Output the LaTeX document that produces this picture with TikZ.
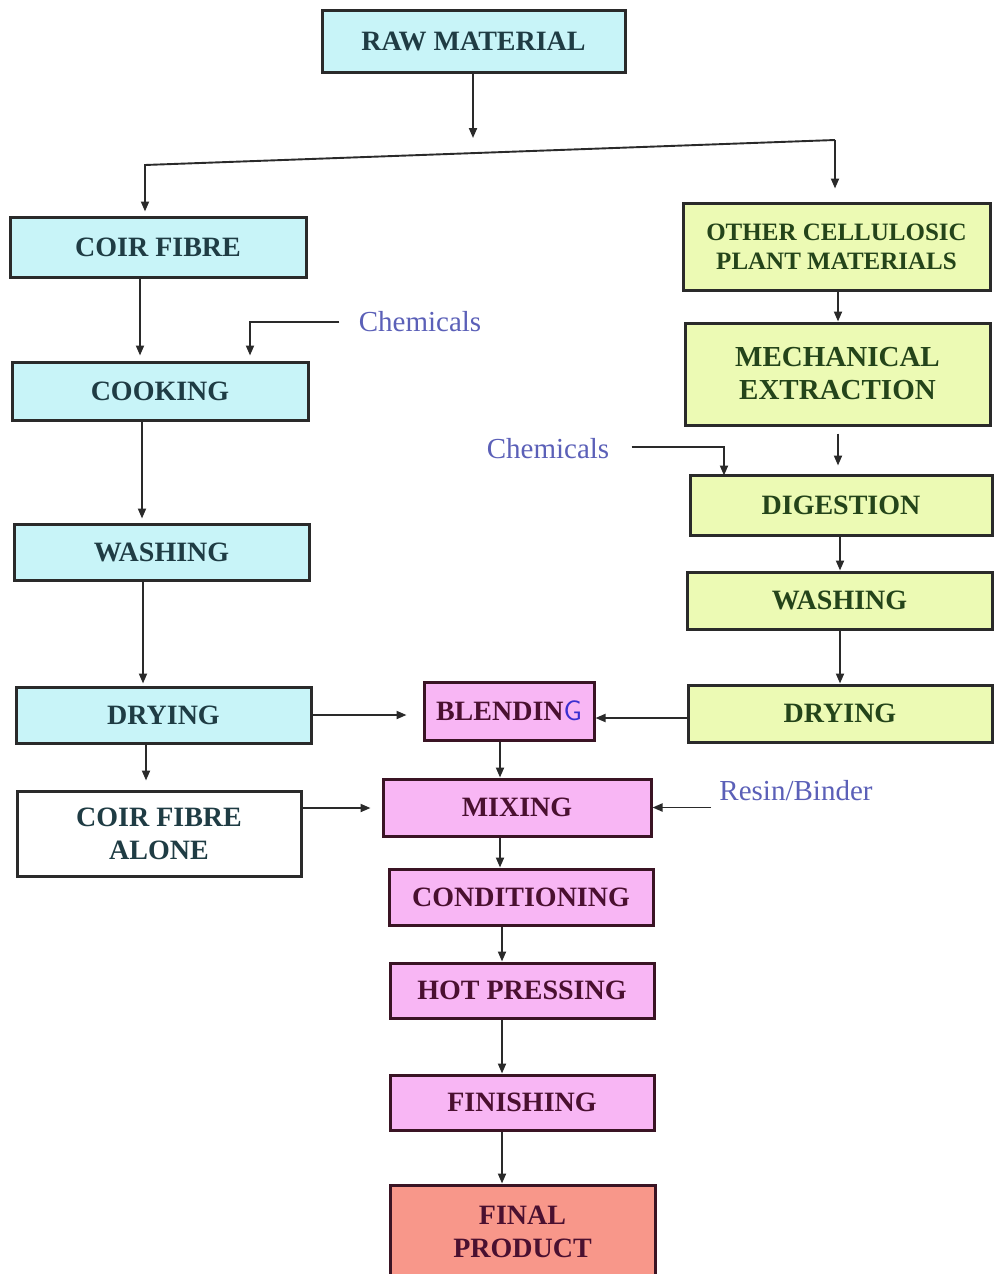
\documentclass[tikz,border=0pt]{standalone}
\usepackage{fontspec}
\setmainfont{Liberation Serif}
\usetikzlibrary{arrows.meta}
\definecolor{cyanfill}{HTML}{C8F4F8}
\definecolor{greenfill}{HTML}{ECFAB4}
\definecolor{pinkfill}{HTML}{F8B6F4}
\definecolor{salmonfill}{HTML}{F8978A}
\definecolor{cyantext}{HTML}{1F3C44}
\definecolor{greentext}{HTML}{24441A}
\definecolor{pinktext}{HTML}{4A1030}
\definecolor{chemblue}{HTML}{5B60B8}
\definecolor{penblue}{HTML}{3A2FD0}
\definecolor{edge}{HTML}{2A2A2A}
\definecolor{pinkedge}{HTML}{3A1424}
\tikzset{
  box/.style 2 args={draw=edge, line width=1.5pt, inner sep=0pt, align=center,
    minimum width=#1*0.5pt, minimum height=#2*0.5pt,
    font=\fontsize{14}{16.5}\selectfont\bfseries},
  cyanbox/.style={fill=cyanfill, text=cyantext},
  greenbox/.style={fill=greenfill, text=greentext},
  pinkbox/.style={fill=pinkfill, text=pinktext, draw=pinkedge},
  finalbox/.style={fill=salmonfill, text=pinktext, draw=pinkedge},
  whitebox/.style={fill=white, text=cyantext},
  chem/.style={text=chemblue, font=\fontsize{14.5}{16}\selectfont, inner sep=1pt},
  arr/.style={draw=edge, line width=0.95pt, -{Triangle[length=5pt,width=4pt]}},
  plain/.style={draw=edge, line width=0.95pt}
}
\begin{document}
\begin{tikzpicture}[x=0.5pt,y=-0.5pt]
\useasboundingbox[fill=white] (0,0) rectangle (993,1274);
% nodes
\node[box={303}{62},cyanbox] (raw) at (473.5,41) {RAW MATERIAL};
\node[box={296}{60},cyanbox] (coir) at (158,247) {COIR FIBRE};
\node[box={307}{87},greenbox,font=\fontsize{12.5}{14.5}\selectfont\bfseries] (other) at (836.5,246.5) {OTHER CELLULOSIC\\PLANT MATERIALS};
\node[box={296}{58},cyanbox] (cook) at (160,391) {COOKING};
\node[box={305}{102},greenbox,font=\fontsize{14.5}{16.5}\selectfont\bfseries] (mech) at (837.5,374) {MECHANICAL\\EXTRACTION};
\node[box={302}{60},greenbox] (dig) at (841,505) {DIGESTION};
\node[box={295}{56},cyanbox] (washL) at (161.5,552) {WASHING};
\node[box={305}{57},greenbox] (washR) at (839.5,600.5) {WASHING};
\node[box={295}{56},cyanbox] (dryL) at (163.5,715) {DRYING};
\node[box={170}{58},pinkbox] (blend) at (509,711) {BLENDIN{\color{penblue}\mdseries\sffamily G}};
\node[box={304}{57},greenbox] (dryR) at (840,713.5) {DRYING};
\node[box={284}{85},whitebox] (alone) at (159,833.5) {COIR FIBRE\\ALONE};
\node[box={268}{57},pinkbox] (mix) at (517,807.5) {MIXING};
\node[box={264}{56},pinkbox] (cond) at (521,897) {CONDITIONING};
\node[box={264}{55},pinkbox] (hot) at (522,990.5) {HOT PRESSING};
\node[box={264}{55},pinkbox] (fin) at (522,1102.5) {FINISHING};
\node[box={265}{94},finalbox] (final) at (522.5,1232) {FINAL\\PRODUCT};
\node[chem] (chem1) at (420,322) {Chemicals};
\node[chem] (chem2) at (548,449) {Chemicals};
\node[chem] (resin) at (796,791) {Resin/Binder};
% branch
\coordinate (rawend) at (473,138);
\coordinate (bl) at (145,165);
\coordinate (br) at (835,140);
\draw[arr] (raw.south -| rawend) -- (rawend);
\draw[arr, shorten >=2pt] (br) -- (bl) -- (coir.north -| bl);
\draw[arr, shorten >=6.5pt] (br) -- (other.north -| br);
% left column
\draw[arr, shorten >=2.5pt] (coir.south -| 140,0) -- (cook.north -| 140,0);
\draw[arr, shorten >=2.5pt] ([xshift=-8.5pt]chem1.west) -| (cook.north -| 250,0);
\draw[arr, shorten >=2pt] (cook.south -| 142,0) -- (washL.north -| 142,0);
\draw[arr, shorten >=1pt] (washL.south -| 143,0) -- (dryL.north -| 143,0);
\draw[arr, shorten >=4.5pt] (dryL.south -| 146,0) -- (alone.north -| 146,0);
\draw[arr, shorten >=8pt] (dryL.east) -- (blend.west |- dryL.east);
\draw[arr, shorten >=5.5pt] (alone.east |- 0,808) -- (mix.west |- 0,808);
% right column
\draw[arr] (other.south -| 838,0) -- (mech.north -| 838,0);
\draw[arr, shorten >=4pt] ([yshift=-3.5pt]mech.south -| 838,0) -- (dig.north -| 838,0);
\draw[arr, shorten >=-1pt] ([xshift=10pt,yshift=1pt]chem2.east) -| (dig.north -| 724,0);
\draw[arr] (dig.south -| 840,0) -- (washR.north -| 840,0);
\draw[arr] (washR.south -| 840,0) -- (dryR.north -| 840,0);
\draw[arr] (dryR.west |- 0,718) -- (blend.east |- 0,718);
% centre column
\draw[arr] (blend.south -| 500,0) -- (mix.north -| 500,0);
\draw[arr] ([xshift=-3pt]resin.west |- mix.east) -- (mix.east);
\draw[arr] (mix.south -| 500,0) -- (cond.north -| 500,0);
\draw[arr] (cond.south -| 502,0) -- (hot.north -| 502,0);
\draw[arr] (hot.south -| 502,0) -- (fin.north -| 502,0);
\draw[arr] (fin.south -| 502,0) -- (final.north -| 502,0);
\end{tikzpicture}
\end{document}
